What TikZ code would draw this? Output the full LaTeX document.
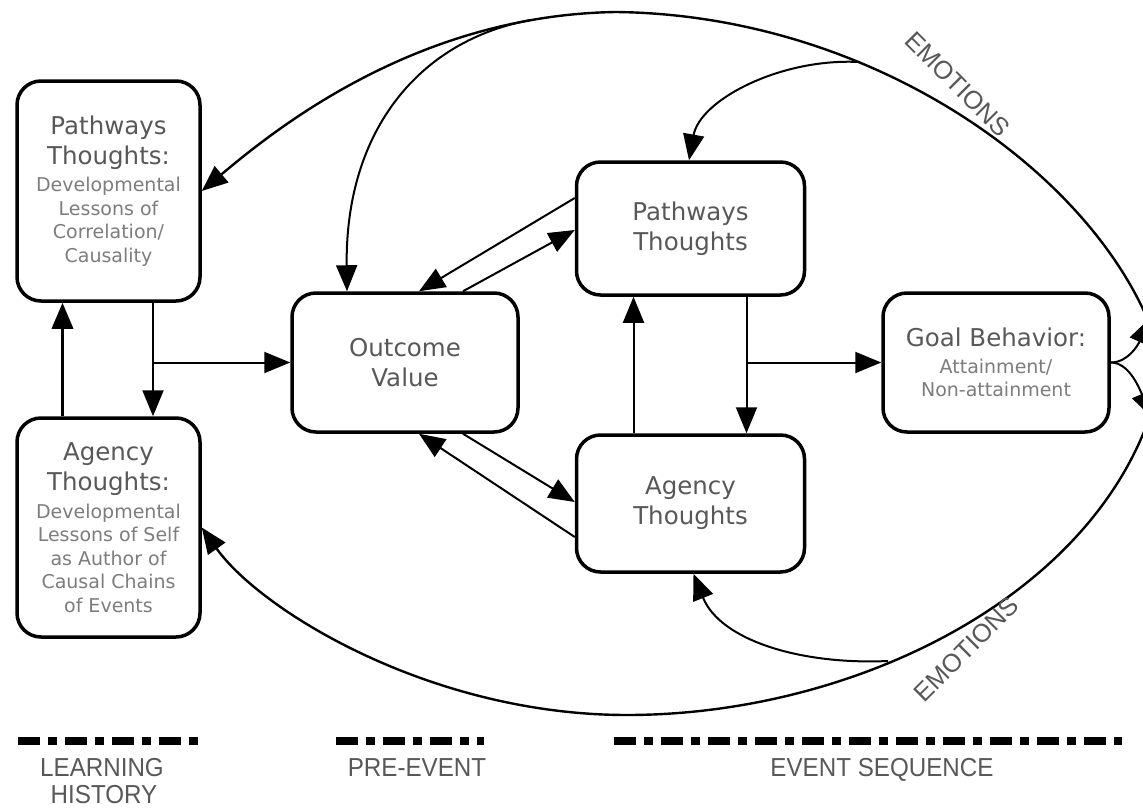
\documentclass[tikz,border=0pt]{standalone}
\usepackage{fontspec}
\setmainfont{DejaVu Sans}
\newfontfamily\labfont{Liberation Sans}
\usetikzlibrary{arrows.meta}
\definecolor{titlegray}{RGB}{88,88,88}
\definecolor{subgray}{RGB}{125,125,125}
\newcommand\mytitle{\fontsize{24.5}{23.5}\selectfont\color{titlegray}}
\newcommand\mysub{\fontsize{19}{23.5}\selectfont\color{subgray}}
\begin{document}
\begin{tikzpicture}[x=1pt,y=-1pt,
  box/.style={draw, line width=3.5pt, rounded corners=24pt, inner sep=0pt, align=center,
    font={\lineskiplimit=-100pt\fontsize{19}{23.5}\selectfont}},
  arr/.style={-{Triangle[length=26pt,width=21pt]}, line width=2pt},
  curve/.style={arr, line width=2.4pt},
  emo/.style={font={\labfont\fontsize{25.5}{25.5}\selectfont}, text=titlegray, inner sep=0pt},
  lab/.style={font={\labfont\fontsize{26}{26}\selectfont}, text=titlegray, inner sep=0pt, xscale=0.93},
  dashline/.style={line width=8pt, dash pattern=on 22pt off 8pt on 9pt off 8pt}]
\fill[white] (0,0) rectangle (1143,808);
\useasboundingbox (0,0) rectangle (1143,808);
\clip (0,0) rectangle (1143,808);

% boxes
\node[box, minimum width=183pt, minimum height=220pt] (PT1) at (108.5,191)
  {\mytitle Pathways\\[6.5pt]\mytitle Thoughts:\\[4pt]\mysub Developmental\\\mysub Lessons of\\\mysub Correlation/\\\mysub Causality};
\node[box, minimum width=183pt, minimum height=219pt] (AT1) at (108.5,527.5)
  {\mytitle Agency\\[6.5pt]\mytitle Thoughts:\\[4pt]\mysub Developmental\\\mysub Lessons of Self\\\mysub as Author of\\\mysub Causal Chains\\\mysub of Events};
\node[box, minimum width=226pt, minimum height=139pt] (OV) at (405,362.5)
  {\mytitle Outcome\\[6.5pt]\mytitle Value};
\node[box, minimum width=228pt, minimum height=133pt] (PT2) at (690.5,228.5)
  {\mytitle Pathways\\[6.5pt]\mytitle Thoughts};
\node[box, minimum width=228pt, minimum height=137pt] (AT2) at (690.5,503.5)
  {\mytitle Agency\\[6.5pt]\mytitle Thoughts};
\node[box, minimum width=226pt, minimum height=139pt] (GB) at (996,362.5)
  {\mytitle Goal Behavior:\\[3.5pt]\mysub Attainment/\\\mysub Non-attainment};

% straight connectors
\draw[arr, line width=3.5pt] ([xshift=-46pt]AT1.north) -- ([xshift=-46pt]PT1.south);
\draw[arr] ([xshift=44.5pt]PT1.south) -- ([xshift=44.5pt]AT1.north);
\coordinate (b1) at (153,362.5);
\draw[arr] (b1) -- (OV.west);

\draw[arr] ([yshift=30.5pt]PT2.west) -- ([xshift=14pt]OV.north);
\draw[arr] ([xshift=58pt]OV.north) -- ([yshift=-1.5pt]PT2.west);
\draw[arr] ([xshift=58pt]OV.south) -- ([yshift=1.5pt]AT2.west);
\draw[arr] ([yshift=-33.5pt]AT2.west) -- ([xshift=14pt]OV.south);

\draw[arr] ([xshift=-57pt]AT2.north) -- ([xshift=-57pt]PT2.south);
\draw[arr] ([xshift=56pt]PT2.south) -- ([xshift=56pt]AT2.north);
\coordinate (b2) at (746.5,362.5);
\draw[arr] (b2) -- (GB.west);

% emotion loops
\coordinate (tR) at (1152,330);
\coordinate (tTop) at (616,12);
\coordinate (jOV) at (531,20);
\coordinate (jPT) at (859,62);
\coordinate (bR) at (1152,410);
\coordinate (bBot) at (627,715);
\coordinate (jAT) at (888,661);
\coordinate (eU) at (1150,318);
\coordinate (eD) at (1152,418);

\draw[curve] (tR) .. controls (1090,170) and (870,15) .. (tTop)
  .. controls (420,15) and (280,125) .. (PT1.east);
\draw[arr] (jOV) .. controls (420,40) and (345,130) .. ([xshift=-58pt]OV.north);
\draw[arr] (jPT) .. controls (780,58) and (700,100) .. ([xshift=-1.5pt]PT2.north);

\draw[curve] (bR) .. controls (1090,600) and (850,715) .. (bBot)
  .. controls (430,715) and (260,610) .. (AT1.east);
\draw[arr] (jAT) .. controls (800,665) and (720,640) .. ([xshift=3pt]AT2.south);

\draw[arr] (GB.east) .. controls (1128,362.5) and (1138,345) .. (eU);
\draw[arr] (GB.east) .. controls (1128,362.5) and (1138,385) .. (eD);

\node[emo, rotate=-45] (emoT) at (958,84) {EMOTIONS};
\node[emo, rotate=45] (emoB) at (966,649) {EMOTIONS};

% phase bars
\draw[dashline] (18,741) -- (198,741);
\draw[dashline] (336,741) -- (484,741);
\draw[dashline] (614,741) -- (1122,741);

\node[lab, anchor=base] (lh1) at (102,776) {LEARNING};
\node[lab, anchor=base] (lh2) at (104,803) {HISTORY};
\node[lab, anchor=base] (pe) at (417,776) {PRE-EVENT};
\node[lab, anchor=base] (es) at (882,776) {EVENT SEQUENCE};
\end{tikzpicture}
\end{document}
